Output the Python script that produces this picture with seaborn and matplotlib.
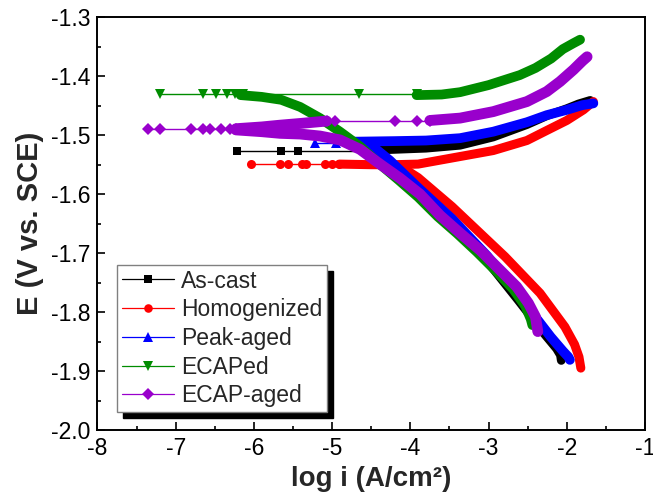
import numpy as np
import pandas as pd
import matplotlib
matplotlib.use("Agg")
import matplotlib.pyplot as plt
import seaborn as sns
from matplotlib.lines import Line2D
from matplotlib.patches import Rectangle
from matplotlib.ticker import MultipleLocator, FormatStrFormatter

# ---------------- data (log i in A/cm2, E in V vs SCE) ----------------
labels = ["As-cast", "Homogenized", "Peak-aged", "ECAPed", "ECAP-aged"]

# As-cast
ascast_sparse_x = [-6.21, -5.65, -5.43, -4.60]
ascast_sparse_y = [-1.527, -1.527, -1.527, -1.527]
ascast_cath_x = [-4.60, -4.45, -4.26, -3.95, -3.52, -3.07, -2.62, -2.28, -2.13, -2.08, -2.07]
ascast_cath_y = [-1.527, -1.533, -1.550, -1.590, -1.642, -1.705, -1.780, -1.838, -1.862, -1.873, -1.882]
ascast_anod_x = [-4.60, -4.20, -3.80, -3.364, -2.94, -2.51, -2.256, -2.00, -1.85, -1.70]
ascast_anod_y = [-1.526, -1.524, -1.522, -1.517, -1.503, -1.482, -1.467, -1.455, -1.447, -1.441]

# Homogenized
homog_sparse_x = [-6.04, -5.67, -5.56, -5.39, -5.33, -5.09, -5.00, -4.91]
homog_sparse_y = [-1.549, -1.549, -1.549, -1.549, -1.549, -1.549, -1.549, -1.549]
homog_cath_x = [-4.30, -4.10, -3.90, -3.467, -2.789, -2.341, -2.024, -1.90, -1.844, -1.82]
homog_cath_y = [-1.549, -1.555, -1.572, -1.621, -1.706, -1.768, -1.825, -1.855, -1.876, -1.895]
homog_anod_x = [-4.91, -4.50, -4.20, -3.90, -3.40, -2.94, -2.51, -2.256, -2.00, -1.787, -1.66]
homog_anod_y = [-1.549, -1.550, -1.550, -1.549, -1.537, -1.526, -1.509, -1.492, -1.475, -1.457, -1.443]

# Peak-aged
peak_sparse_x = [-5.22, -4.95, -4.73]
peak_sparse_y = [-1.5137, -1.5137, -1.5137]
peak_cath_x = [-4.65, -4.50, -4.26, -3.916, -3.465, -3.015, -2.565, -2.205, -2.05, -1.98, -1.96]
peak_cath_y = [-1.512, -1.517, -1.543, -1.587, -1.642, -1.705, -1.780, -1.842, -1.866, -1.876, -1.881]
peak_anod_x = [-4.73, -4.20, -3.80, -3.364, -2.94, -2.51, -2.256, -2.00, -1.80, -1.66]
peak_anod_y = [-1.511, -1.510, -1.509, -1.505, -1.494, -1.478, -1.466, -1.457, -1.449, -1.446]

# ECAPed
ecap_sparse_x = [-7.20, -6.65, -6.48, -6.35, -6.24, -6.14, -4.65, -3.92]
ecap_sparse_y = [-1.4306, -1.4306, -1.4306, -1.4306, -1.4306, -1.4306, -1.4306, -1.4306]
ecap_cath_x = [-6.17, -5.90, -5.65, -5.41, -5.155, -4.90, -4.643, -4.40, -4.15, -3.90, -3.65,
               -3.40, -3.15, -2.90, -2.68, -2.53, -2.46, -2.44]
ecap_cath_y = [-1.432, -1.435, -1.440, -1.452, -1.471, -1.494, -1.519, -1.548, -1.576, -1.605, -1.638,
               -1.667, -1.698, -1.731, -1.762, -1.790, -1.812, -1.822]
ecap_anod_x = [-3.92, -3.60, -3.364, -3.00, -2.60, -2.40, -2.20, -2.05, -1.915, -1.83]
ecap_anod_y = [-1.432, -1.431, -1.427, -1.415, -1.398, -1.386, -1.370, -1.354, -1.344, -1.338]

# ECAP-aged
ecapaged_sparse1_x = [-7.35, -7.20, -6.80, -6.65, -6.56, -6.42, -6.31, -6.23]
ecapaged_sparse1_y = [-1.490, -1.490, -1.490, -1.490, -1.490, -1.490, -1.490, -1.490]
ecapaged_cath_x = [-6.23, -5.90, -5.666, -5.41, -5.155, -4.90, -4.643, -4.388, -4.132, -3.876,
                   -3.62, -3.365, -3.109, -2.853, -2.64, -2.49, -2.40, -2.37]
ecapaged_cath_y = [-1.491, -1.494, -1.4968, -1.498, -1.5014, -1.508, -1.524, -1.549, -1.573, -1.600,
                   -1.636, -1.666, -1.6948, -1.7287, -1.757, -1.785, -1.808, -1.833]
ecapaged_mid_x = [-6.23, -5.90, -5.666, -5.40, -5.07]
ecapaged_mid_y = [-1.489, -1.486, -1.483, -1.480, -1.476]
ecapaged_sparse2_x = [-5.07, -4.96, -4.20, -3.92, -3.75]
ecapaged_sparse2_y = [-1.476, -1.476, -1.476, -1.476, -1.476]
ecapaged_anod_x = [-3.75, -3.364, -2.94, -2.51, -2.256, -2.086, -1.915, -1.80, -1.74]
ecapaged_anod_y = [-1.475, -1.471, -1.460, -1.443, -1.426, -1.409, -1.389, -1.374, -1.367]

x_ticks = [-8, -7, -6, -5, -4, -3, -2, -1]
y_ticks = [-2.0, -1.9, -1.8, -1.7, -1.6, -1.5, -1.4, -1.3]

# ---------------- styling ----------------
sns.set_theme(style="white")
plt.rcParams['font.family'] = ['Liberation Sans', 'DejaVu Sans']
plt.rcParams['axes.unicode_minus'] = False

colors = ["#000000", "#ff0000", "#0000ff", "#008c00", "#9900cc"]
markers = ["s", "o", "^", "v", "D"]
msizes = [6.0, 6.5, 7.5, 7.5, 6.0]
bandw = [6.3, 6.5, 7.0, 7.0, 7.8]

fig = plt.figure(figsize=(6.53, 4.98), dpi=100)
ax = fig.add_axes([0.1493, 0.1365, 0.8384, 0.8288])


def draw_band(x, y, i):
    df = pd.DataFrame({"logi": x, "E": y})
    sns.lineplot(data=df, x="logi", y="E", sort=False, estimator=None, ax=ax,
                 color=colors[i], lw=bandw[i], solid_capstyle="round",
                 solid_joinstyle="round", zorder=3 + i, legend=False)


def draw_sparse(x, y, i):
    df = pd.DataFrame({"logi": x, "E": y})
    sns.lineplot(data=df, x="logi", y="E", sort=False, estimator=None, ax=ax,
                 color=colors[i], lw=1.0, marker=markers[i], markersize=msizes[i],
                 markeredgewidth=0, zorder=3 + i, legend=False)


series = [
    [(ascast_sparse_x, ascast_sparse_y, "s"), (ascast_cath_x, ascast_cath_y, "b"),
     (ascast_anod_x, ascast_anod_y, "b")],
    [(homog_sparse_x, homog_sparse_y, "s"), (homog_cath_x, homog_cath_y, "b"),
     (homog_anod_x, homog_anod_y, "b")],
    [(peak_sparse_x, peak_sparse_y, "s"), (peak_cath_x, peak_cath_y, "b"),
     (peak_anod_x, peak_anod_y, "b")],
    [(ecap_sparse_x, ecap_sparse_y, "s"), (ecap_cath_x, ecap_cath_y, "b"),
     (ecap_anod_x, ecap_anod_y, "b")],
    [(ecapaged_sparse1_x, ecapaged_sparse1_y, "s"), (ecapaged_cath_x, ecapaged_cath_y, "b"),
     (ecapaged_mid_x, ecapaged_mid_y, "b"), (ecapaged_sparse2_x, ecapaged_sparse2_y, "s"),
     (ecapaged_anod_x, ecapaged_anod_y, "b")],
]

for i, segs in enumerate(series):
    for x, y, kind in segs:
        if kind == "s":
            draw_sparse(x, y, i)
        else:
            draw_band(x, y, i)

ax.set_xlim(-8, -1)
ax.set_ylim(-2.0, -1.3)
ax.set_xticks(x_ticks)
ax.set_yticks(y_ticks)
ax.xaxis.set_minor_locator(MultipleLocator(0.5))
ax.yaxis.set_minor_locator(MultipleLocator(0.05))
ax.yaxis.set_major_formatter(FormatStrFormatter("%.1f"))
ax.xaxis.set_major_formatter(FormatStrFormatter("%d"))
ax.tick_params(which="both", direction="in", top=False, right=False,
               bottom=True, left=True, colors="black", width=1.2)
ax.tick_params(which="major", length=6, labelsize=16.5, pad=5)
ax.tick_params(which="minor", length=3)
for s in ax.spines.values():
    s.set_color("black")
    s.set_linewidth(1.4)

ax.set_xlabel("log i (A/cm²)", fontsize=20, fontweight="bold", labelpad=4)
ax.set_ylabel("E (V vs. SCE)", fontsize=21, fontweight="bold", labelpad=5)

handles = [Line2D([], [], color=colors[i], lw=0.9, marker=markers[i],
                  markersize=msizes[i] * 0.95, markeredgewidth=0) for i in range(5)]
leg = ax.legend(handles, labels, loc="upper left", bbox_to_anchor=(0.0356, 0.40),
                borderaxespad=0, frameon=True, fancybox=False, framealpha=1,
                edgecolor="#808080", fontsize=16.5, handlelength=2.3,
                handletextpad=0.3, labelspacing=0.25, borderpad=0.2)
leg.get_frame().set_linewidth(1.0)
leg.set_zorder(20)

fig.canvas.draw()
bb = leg.get_window_extent()
inv = ax.transAxes.inverted()
(x0, y0) = inv.transform((bb.x0 + 6, bb.y0 - 6))
(x1, y1) = inv.transform((bb.x1 + 6, bb.y1 - 6))
ax.add_patch(Rectangle((x0, y0), x1 - x0, y1 - y0, transform=ax.transAxes,
                       facecolor="black", edgecolor="black", clip_on=False, zorder=19))

fig.savefig("out.png", dpi=100)
